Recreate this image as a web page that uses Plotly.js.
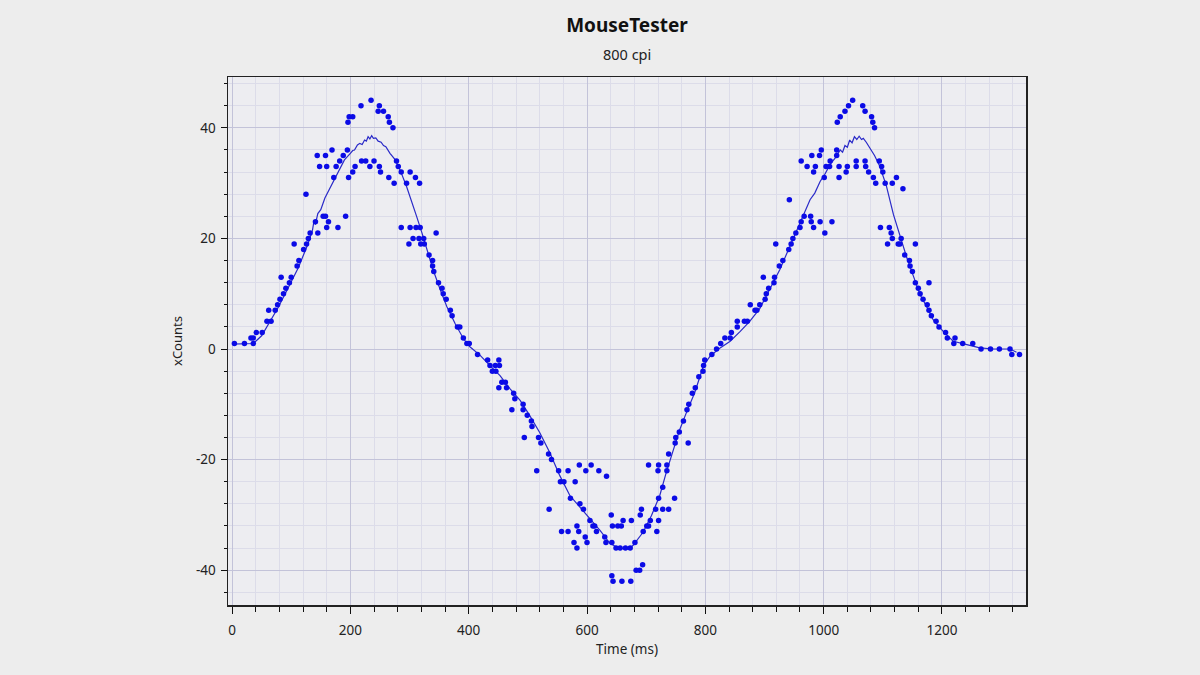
<!DOCTYPE html>
<html>
<head>
<meta charset="utf-8">
<script src="https://cdn.plot.ly/plotly-3.0.1.min.js"></script>
<style>
  html, body { margin: 0; padding: 0; background: #ededed; }
  #chart { width: 1200px; height: 675px; }
</style>
</head>
<body>
<div id="chart"></div>
<script>
// report samples (time in ms, counts per report)
const dotTime = [
  4, 21, 32, 36, 36, 41, 51, 59, 62, 66, 73, 77, 81, 83, 87, 91, 97, 100, 105, 110,
  113, 121, 125, 126, 129, 132, 141, 144, 145, 148, 154, 158, 158, 160, 160, 163, 169, 172, 176, 179,
  182, 188, 192, 195, 196, 197, 198, 204, 204, 208, 218, 219, 226, 233, 235, 240, 247, 249, 249, 251,
  256, 264, 265, 266, 272, 274, 278, 281, 286, 286, 295, 299, 301, 301, 306, 310, 311, 316, 317, 318,
  319, 324, 325, 333, 339, 339, 341, 345, 349, 355, 357, 362, 369, 372, 381, 385, 391, 397, 401, 415,
  432, 436, 440, 445, 446, 451, 452, 451, 456, 462, 464, 473, 476, 478, 492, 492, 494, 499, 506, 507,
  515, 518, 522, 535, 536, 540, 552, 555, 557, 561, 568, 568, 572, 578, 580, 583, 583, 586, 587, 588,
  594, 597, 598, 600, 605, 607, 610, 613, 616, 620, 630, 632, 633, 641, 642, 642, 643, 644, 649, 652,
  656, 658, 659, 661, 665, 673, 674, 675, 681, 683, 689, 690, 692, 694, 695, 701, 704, 704, 707, 716,
  718, 720, 721, 721, 721, 728, 728, 735, 735, 738, 738, 748, 749, 750, 756, 763, 769, 771, 772, 778,
  783, 789, 796, 797, 799, 811, 819, 826, 833, 842, 844, 854, 854, 866, 871, 876, 884, 887, 892, 898,
  901, 903, 907, 916, 917, 919, 925, 931, 941, 942, 945, 948, 953, 960, 962, 962, 967, 972, 978, 979,
  980, 983, 983, 986, 993, 994, 996, 1001, 1002, 1004, 1010, 1011, 1014, 1022, 1022, 1023, 1026, 1026, 1028, 1036,
  1038, 1040, 1042, 1049, 1055, 1055, 1066, 1070, 1070, 1071, 1076, 1081, 1083, 1084, 1086, 1088, 1094, 1098, 1100, 1104,
  1096, 1108, 1111, 1114, 1116, 1116, 1123, 1126, 1129, 1131, 1134, 1137, 1145, 1146, 1150, 1155, 1155, 1160, 1163, 1168,
  1175, 1178, 1178, 1182, 1190, 1195, 1206, 1209, 1220, 1222, 1235, 1252, 1266, 1282, 1297, 1315, 1318, 1331
];
const dotCounts = [
  1, 1, 2, 2, 1, 3, 3, 5, 7, 5, 7, 8, 9, 13, 10, 11, 12, 13, 19, 15,
  16, 18, 28, 19, 20, 21, 23, 35, 21, 33, 24, 24, 35, 22, 33, 23, 36, 31, 33, 22,
  34, 35, 24, 36, 41, 31, 42, 42, 32, 33, 44, 34, 34, 33, 45, 34, 43, 44, 33, 32,
  43, 42, 31, 41, 40, 30, 34, 33, 32, 22, 30, 19, 32, 22, 20, 31, 22, 20, 30, 22,
  19, 20, 19, 17, 16, 15, 14, 21, 12, 11, 10, 9, 7, 6, 4, 4, 2, 1, 1, -1,
  -2, -3, -4, -3, -4, -2, -3, -7, -6, -6, -7, -11, -8, -9, -10, -11, -16, -12, -13, -14,
  -22, -16, -17, -19, -29, -20, -22, -24, -33, -24, -22, -33, -27, -35, -24, -32, -36, -33, -21, -28,
  -29, -34, -22, -35, -31, -21, -32, -32, -33, -22, -34, -35, -23, -30, -35, -41, -32, -42, -36, -32,
  -36, -32, -42, -31, -36, -36, -42, -31, -35, -40, -40, -30, -29, -39, -33, -32, -32, -21, -31, -29,
  -33, -22, -27, -21, -31, -25, -29, -22, -21, -19, -29, -27, -17, -16, -15, -13, -11, -17, -10, -8,
  -7, -5, -4, -3, -2, -1, 0, 1, 2, 2, 3, 4, 5, 5, 5, 8, 7, 7, 8, 13,
  9, 10, 11, 12, 13, 19, 15, 16, 18, 27, 19, 20, 21, 22, 23, 34, 24, 33, 24, 23,
  35, 22, 32, 33, 35, 23, 36, 31, 21, 33, 33, 34, 23, 36, 35, 41, 33, 31, 42, 43,
  32, 33, 44, 45, 34, 33, 44, 43, 34, 33, 32, 42, 41, 31, 40, 30, 34, 33, 32, 30,
  22, 19, 22, 21, 20, 30, 31, 19, 19, 20, 29, 17, 16, 15, 14, 12, 19, 11, 10, 9,
  8, 12, 7, 6, 5, 4, 3, 2, 1, 2, 1, 1, 0, 0, 0, 0, -1, -1
];

// smoothed trace (slightly jagged near the peaks, as drawn)
const lineTime = [
  0, 20, 36, 50, 61, 78, 95, 112, 128, 136, 138, 141, 145, 150, 157, 168, 179, 190, 200, 204,
  207, 212, 216, 220, 224, 227, 230, 233, 236, 239, 243, 247, 252, 256, 260, 267, 276, 284, 295, 304,
  312, 321, 329, 340, 352, 363, 377, 391, 402, 419, 436, 453, 470, 487, 503, 520, 537, 554, 571, 588,
  605, 622, 639, 650, 661, 670, 678, 695, 709, 723, 734, 746, 757, 768, 782, 797, 808, 825, 842, 859,
  875, 892, 909, 926, 943, 960, 964, 968, 977, 985, 994, 1002, 1011, 1020, 1028, 1032, 1036, 1040, 1044, 1048,
  1052, 1056, 1060, 1064, 1067, 1072, 1078, 1086, 1095, 1106, 1118, 1129, 1140, 1152, 1163, 1174, 1185, 1202, 1219, 1242,
  1264, 1287, 1315, 1326
];
const lineCounts = [
  0.9, 1.0, 1.0, 2.4, 4.5, 7.5, 11.1, 14.7, 18.9, 21.5, 22.8, 22.6, 24.5, 25.2, 27.3, 29.7, 32.1, 34.2, 35.4, 35.9,
  36.0, 36.9, 37.2, 37.0, 37.8, 37.6, 38.4, 38.0, 38.6, 38.1, 38.2, 37.6, 37.4, 36.8, 36.6, 35.4, 34.2, 32.4, 29.4, 26.7,
  24.0, 21.0, 18.0, 14.3, 10.7, 7.7, 4.6, 1.9, 0.4, -1.1, -3.0, -4.8, -7.2, -9.3, -12.0, -15.1, -18.7, -22.9, -26.5, -28.6,
  -30.7, -32.8, -35.2, -35.8, -36.1, -36.2, -35.5, -33.1, -30.1, -26.5, -22.3, -18.1, -14.5, -11.5, -7.9, -3.0, -1.3, 0.2, 1.4, 3.2,
  5.0, 7.3, 10.8, 14.4, 18.6, 22.8, 23.6, 24.5, 27.0, 28.2, 30.3, 31.6, 33.4, 34.6, 36.0, 35.6, 36.8, 36.5, 37.8, 37.3,
  38.4, 37.9, 38.5, 37.9, 38.1, 37.4, 36.3, 35.0, 33.0, 29.5, 24.3, 20.4, 16.7, 13.1, 9.8, 7.7, 5.3, 3.2, 1.4, 0.8,
  0.2, 0.0, 0.0, -0.6
];

const yTickVals = [-40, -20, 0, 20, 40];
const yTickText = ["-40", "-20", "0", "20", "40"];

const fontFamily = "'Noto Sans', 'Open Sans', sans-serif";
const textColor = "#222222";
const minorGrid = "#dcdce9";
const majorGrid = "#c3c3d9";

const traces = [
  {
    x: lineTime,
    y: lineCounts,
    type: "scatter",
    mode: "lines",
    line: { color: "#2a2ac8", width: 1.2 },
    hoverinfo: "x+y",
    showlegend: false,
  },
  {
    x: dotTime,
    y: dotCounts,
    type: "scatter",
    mode: "markers",
    marker: { color: "#0b0be6", size: 5.5 },
    hoverinfo: "x+y",
    showlegend: false,
  },
];

const layout = {
  width: 1200,
  height: 675,
  paper_bgcolor: "#ededed",
  plot_bgcolor: "#ededf1",
  font: { family: fontFamily, color: textColor, size: 13 },
  margin: { l: 228, r: 174, t: 77, b: 70 },
  title: {
    text: "<b>MouseTester</b>",
    font: { family: fontFamily, size: 19, color: "#111111" },
    xref: "paper",
    x: 0.5,
    xanchor: "center",
    y: 0.963,
    yanchor: "middle",
  },
  annotations: [
    {
      text: "800 cpi",
      xref: "paper",
      yref: "paper",
      x: 0.5,
      y: 1.0436,
      xanchor: "center",
      yanchor: "middle",
      showarrow: false,
      font: { family: fontFamily, size: 14.5, color: textColor },
    },
  ],
  xaxis: {
    range: [-6.8, 1342],
    tickmode: "linear",
    tick0: 0,
    dtick: 200,
    ticks: "outside",
    ticklen: 7,
    tickcolor: "#111111",
    tickfont: { size: 13.5 },
    ticklabelstandoff: 5,
    showline: true,
    linecolor: "#222222",
    linewidth: 1.5,
    mirror: true,
    showgrid: true,
    gridcolor: majorGrid,
    gridwidth: 1,
    zeroline: false,
    minor: {
      tickmode: "linear",
      tick0: 0,
      dtick: 40,
      ticks: "outside",
      ticklen: 5,
      tickcolor: "#111111",
      showgrid: true,
      gridcolor: minorGrid,
      gridwidth: 1,
    },
    title: { text: "Time (ms)", font: { size: 13.5 }, standoff: 7 },
  },
  yaxis: {
    range: [-46.3, 49.2],
    tickmode: "array",
    tickvals: yTickVals,
    ticktext: yTickText,
    ticks: "outside",
    ticklen: 6,
    tickcolor: "#111111",
    tickfont: { size: 13.5 },
    ticklabelstandoff: 2,
    showline: true,
    linecolor: "#222222",
    linewidth: 1.5,
    mirror: true,
    showgrid: true,
    gridcolor: majorGrid,
    gridwidth: 1,
    zeroline: false,
    minor: {
      tickmode: "linear",
      tick0: 0,
      dtick: 4,
      ticks: "outside",
      ticklen: 3,
      tickcolor: "#111111",
      showgrid: true,
      gridcolor: minorGrid,
      gridwidth: 1,
    },
    title: { text: "xCounts", font: { size: 13 }, standoff: 10 },
  },
};

Plotly.newPlot("chart", traces, layout, { displayModeBar: false, staticPlot: true });
</script>
</body>
</html>
